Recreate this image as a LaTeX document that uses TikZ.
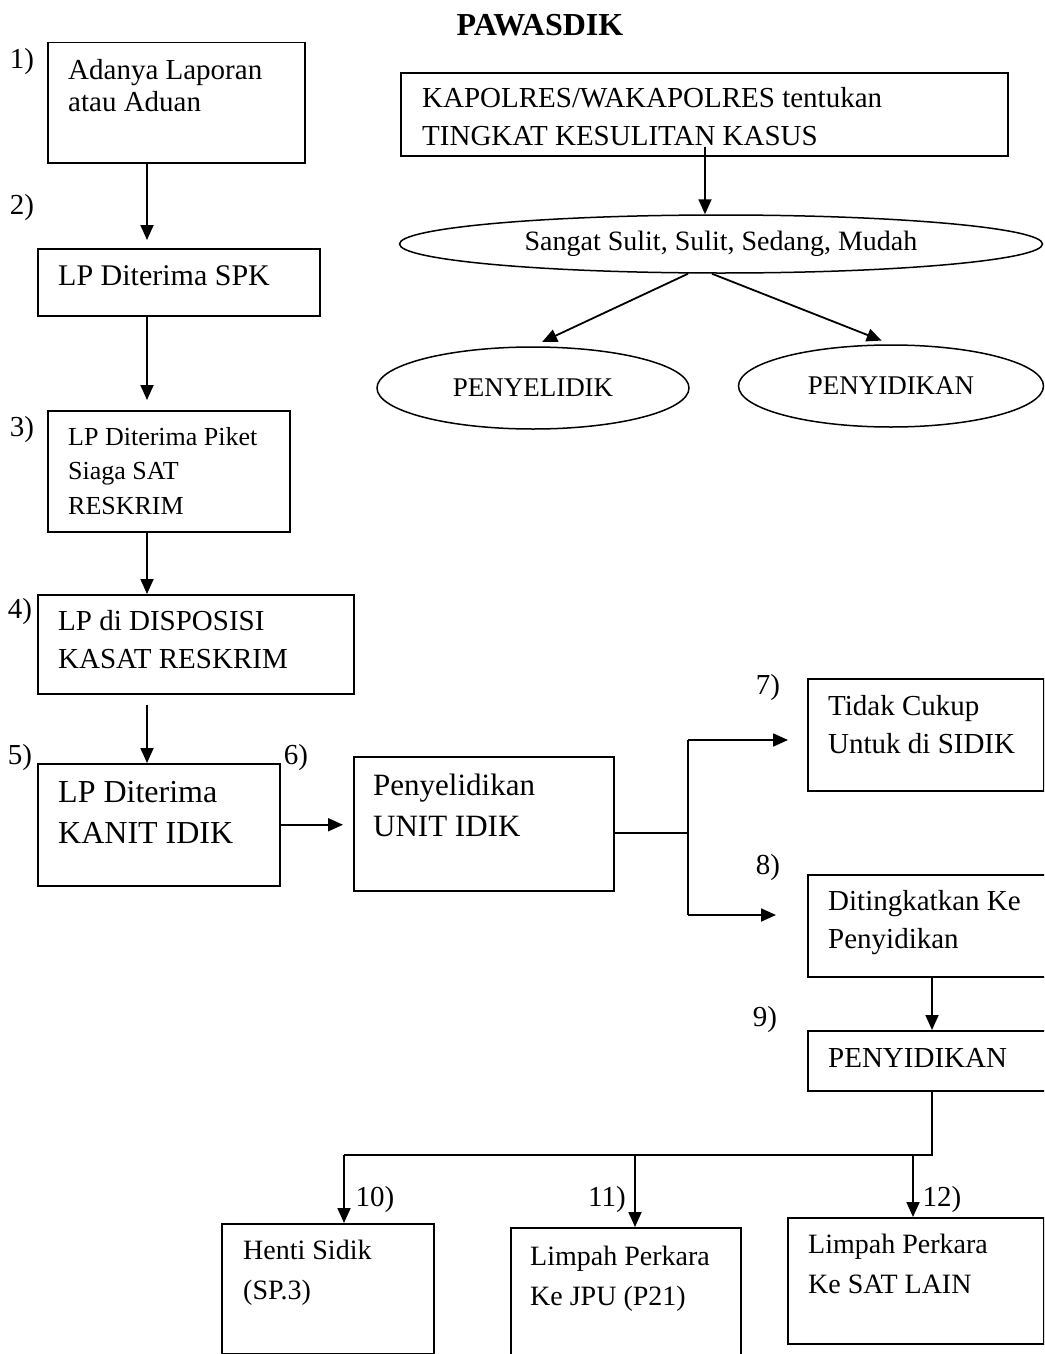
\documentclass[tikz,border=0pt]{standalone}
\usepackage{fontspec}
\setmainfont{Liberation Serif}
\usetikzlibrary{shapes.geometric, arrows.meta, positioning}

\begin{document}
\begin{tikzpicture}[
        x=1pt, y=-1pt,
        every node/.style={font=\fontsize{29}{38}\selectfont},
        box/.style={rectangle, draw, line width=1.5pt, inner sep=0pt, anchor=north west},
        txt/.style={align=left, inner sep=0pt, anchor=north west},
        oval/.style={ellipse, draw, line width=1.5pt, inner sep=0pt},
        num/.style={font=\fontsize{29}{32}\selectfont, inner sep=0pt},
        arr/.style={-{Triangle[length=15pt, width=13pt]}, line width=1.8pt},
        ln/.style={line width=1.8pt}
    ]
        \clip (0,0) rectangle (1044,1354);
        \node[font=\fontsize{32}{36}\selectfont\bfseries] (title) at (540,25) {PAWASDIK};
        % left column
        \node[box, minimum width=257pt, minimum height=120pt,
              label={[txt, xshift=21pt, yshift=-17pt, font=\fontsize{29}{32}\selectfont]north west:Adanya Laporan\\atau Aduan}] (lapor) at (47,42) {};
        \node[box, minimum width=282pt, minimum height=67pt,
              label={[txt, xshift=21pt, yshift=-17pt, font=\fontsize{30}{38}\selectfont]north west:LP Diterima SPK}] (spk) at (37,248) {};
        \node[box, minimum width=242pt, minimum height=121pt,
              label={[txt, xshift=21pt, yshift=-17pt, font=\fontsize{26}{34.5}\selectfont]north west:LP Diterima Piket\\Siaga SAT\\RESKRIM}] (piket) at (47,410) {};
        \node[box, minimum width=316pt, minimum height=99pt,
              label={[txt, xshift=21pt, yshift=-16pt]north west:LP di DISPOSISI\\KASAT RESKRIM}] (dispo) at (37,594) {};
        \node[box, minimum width=242pt, minimum height=122pt,
              label={[txt, xshift=21pt, yshift=-18pt, font=\fontsize{32}{41}\selectfont]north west:LP Diterima\\KANIT IDIK}] (kanit) at (37,763) {};
        \node[box, minimum width=260pt, minimum height=134pt,
              label={[txt, xshift=20pt, yshift=-18pt, font=\fontsize{31}{41}\selectfont]north west:Penyelidikan\\UNIT IDIK}] (selidik) at (353,756) {};
        % right column
        \node[box, minimum width=236pt, minimum height=112pt,
              label={[txt, xshift=21pt, yshift=-17pt]north west:Tidak Cukup\\Untuk di SIDIK}] (tidak) at (807,678) {};
        \node[box, minimum width=240pt, minimum height=102pt,
              label={[txt, xshift=21pt, yshift=-16pt]north west:Ditingkatkan Ke\\Penyidikan}] (tingkat) at (807,874) {};
        \node[box, minimum width=240pt, minimum height=60pt,
              label={[txt, xshift=21pt, yshift=-18pt]north west:PENYIDIKAN}] (sidik) at (807,1030) {};
        % bottom row
        \node[box, minimum width=212pt, minimum height=130pt,
              label={[txt, xshift=22pt, yshift=-17pt, font=\fontsize{28}{40}\selectfont]north west:Henti Sidik\\(SP.3)}] (henti) at (221,1223) {};
        \node[box, minimum width=230pt, minimum height=150pt,
              label={[txt, xshift=20pt, yshift=-19pt, font=\fontsize{28}{40}\selectfont]north west:Limpah Perkara\\Ke JPU (P21)}] (jpu) at (510,1227) {};
        \node[box, minimum width=256pt, minimum height=126pt,
              label={[txt, xshift=21pt, yshift=-17pt, font=\fontsize{28}{40}\selectfont]north west:Limpah Perkara\\Ke SAT LAIN}] (lain) at (787,1217) {};
        % top right
        \node[box, minimum width=607pt, minimum height=83pt] (kapol) at (400,72) {};
        \begin{scope}
            \clip (400,72) rectangle (1007,146);
            \node[txt] (kapoltxt) at (422,87) {KAPOLRES/WAKAPOLRES tentukan\\TINGKAT KESULITAN KASUS};
        \end{scope}
        \node[oval, minimum width=643pt, minimum height=58pt, font=\fontsize{28}{32}\selectfont] (sangat) at (721,244) {Sangat Sulit, Sulit, Sedang, Mudah};
        \node[oval, minimum width=312pt, minimum height=82pt, font=\fontsize{27}{30}\selectfont] (penyelidik) at (533,388) {PENYELIDIK};
        \node[oval, minimum width=305pt, minimum height=82pt, font=\fontsize{27}{30}\selectfont] (penyidikan) at (891,386) {PENYIDIKAN};
        % step numbers
        \node[num] (n1) at (22,62) {1)};
        \node[num] (n2) at (22,208) {2)};
        \node[num] (n3) at (22,430) {3)};
        \node[num] (n4) at (20,612) {4)};
        \node[num] (n5) at (20,758) {5)};
        \node[num] (n6) at (296,758) {6)};
        \node[num] (n7) at (768,688) {7)};
        \node[num] (n8) at (768,868) {8)};
        \node[num] (n9) at (765,1020) {9)};
        \node[num] (n10) at (375,1200) {10)};
        \node[num] (n11) at (607,1200) {11)};
        \node[num] (n12) at (942,1200) {12)};
        % helper points
        \coordinate (col) at (147,0);
        \coordinate (kcol) at (705,0);
        \coordinate (brtop) at (688,740);
        \coordinate (brmid) at (688,833);
        \coordinate (brbot) at (688,915);
        \coordinate (hub) at (932,1155);
        \coordinate (hubl) at (344,1155);
        \coordinate (hubm) at (635,1155);
        \coordinate (hubr) at (913,1155);
        % connectors
        \draw[arr, shorten >=8pt] (lapor.south -| col) -- (spk.north -| col);
        \draw[arr, shorten >=10pt] (spk.south -| col) -- (piket.north -| col);
        \draw[arr] (piket.south -| col) -- (dispo.north -| col);
        \draw[arr, shorten <=10pt] (dispo.south -| col) -- (kanit.north -| col);
        \draw[arr, shorten >=10pt] (kanit.east) -- (kanit.east -| selidik.west);
        \draw[ln] (selidik.east |- brmid) -- (brmid);
        \draw[ln] (brtop) -- (brbot);
        \draw[arr, shorten >=19pt] (brtop) -- (brtop -| tidak.west);
        \draw[arr, shorten >=31pt] (brbot) -- (brbot -| tingkat.west);
        \draw[arr] (tingkat.south -| hub) -- (sidik.north -| hub);
        \draw[ln] (sidik.south -| hub) -- (hub) -- (hubl);
        \draw[arr] (hubl) -- (henti.north -| hubl);
        \draw[arr] (hubm) -- (jpu.north -| hubm);
        \draw[arr] (hubr) -- (lain.north -| hubr);
        \draw[arr] ([yshift=10pt]kapol.south -| kcol) -- (sangat.north -| kcol);
        \draw[arr, shorten >=10pt] ([xshift=-33pt]sangat.south) -- (penyelidik.north);
        \draw[arr, shorten >=10pt] ([xshift=-9pt]sangat.south) -- (penyidikan.north);
    \end{tikzpicture}
\end{document}
